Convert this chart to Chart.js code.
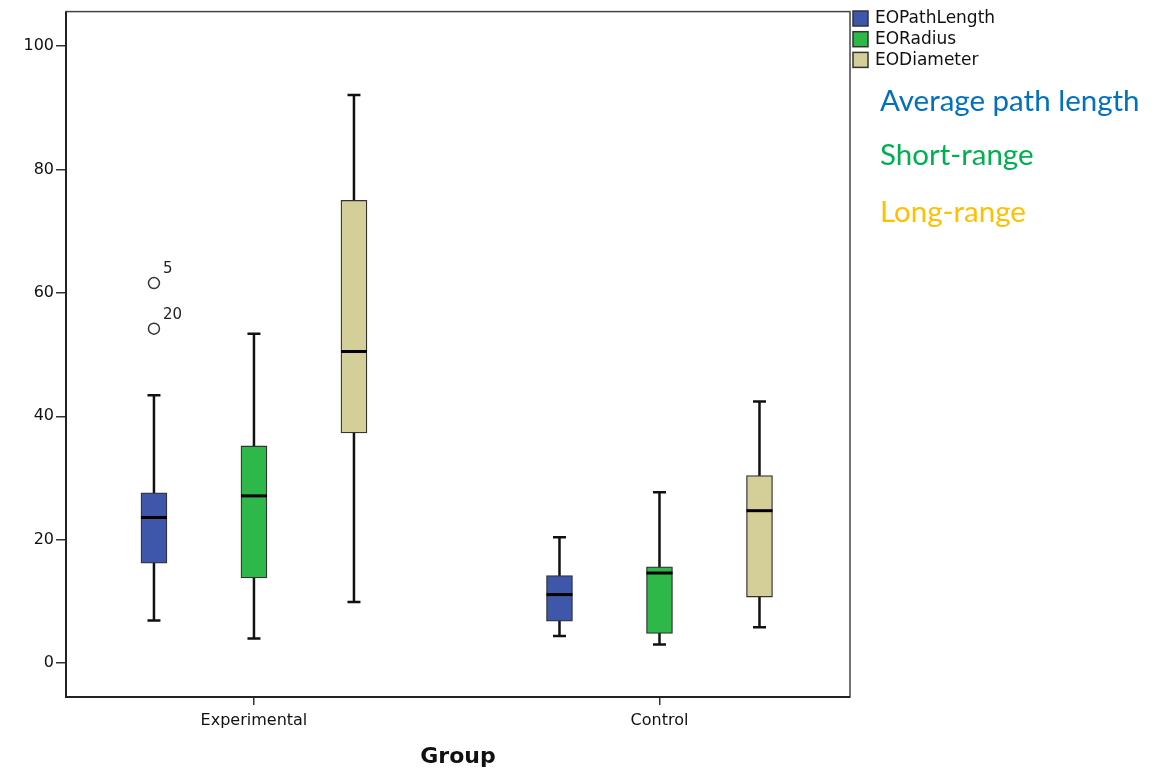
<!DOCTYPE html>
<html><head><meta charset="utf-8">
<script src="https://cdn.jsdelivr.net/npm/chart.js@4"></script>
<style>html,body{margin:0;padding:0;background:#fff}#wrap{width:1166px;height:776px;position:relative}</style>
</head><body><div id="wrap"><canvas id="c" width="1166" height="776"></canvas></div>
<script>
// ---- data ----
const groups = ['Experimental', 'Control'];
const seriesNames = ['EOPathLength', 'EORadius', 'EODiameter'];
// each row: [whiskerLow, Q1, median, Q3, whiskerHigh], one row per group
const pathLengthStats = [[6.9, 16.2, 23.6, 27.6, 43.4], [4.4, 6.8, 11.1, 14.2, 20.4]];
const radiusStats     = [[4.0, 13.8, 27.1, 35.2, 53.4], [3.0, 4.8, 14.6, 15.6, 27.7]];
const diameterStats   = [[9.9, 37.3, 50.5, 75.0, 92.1], [5.8, 10.7, 24.7, 30.4, 42.4]];
const outlierValues = [61.6, 54.2];
const outlierLabels = ['5', '20'];
const outlierGroup = 0;   // Experimental
const outlierSeries = 0;  // EOPathLength
const yTicks = [0, 20, 40, 60, 80, 100];
const annotationTexts = ['Average path length', 'Short-range', 'Long-range'];
const annotationColors = ['#0070C0', '#00B050', '#FFC000'];
const seriesColors = ['#3F57AA', '#2FB84A', '#D4CF98'];

// ---- layout helpers ----
const allStats = [pathLengthStats, radiusStats, diameterStats];
const seriesOffset = [-0.2466, 0, 0.2466];

const boxDatasets = allStats.map((stats, s) => ({
  type: 'bar',
  label: seriesNames[s],
  data: stats.map((r, g) => ({ x: g + seriesOffset[s], y: [r[1], r[3]] })),
  backgroundColor: seriesColors[s],
  borderColor: '#333',
  borderWidth: 1.3,
  borderSkipped: false,
  barThickness: 26,
  grouped: false,
  order: 2
}));

const outlierDataset = {
  type: 'scatter',
  label: 'outliers',
  data: outlierValues.map(v => ({ x: outlierGroup + seriesOffset[outlierSeries], y: v })),
  pointStyle: 'circle',
  pointRadius: 5.5,
  backgroundColor: 'rgba(255,255,255,0)',
  borderColor: '#333',
  borderWidth: 1.5,
  order: 1
};

const boxPlugin = {
  id: 'boxparts',
  beforeDatasetsDraw(chart) {
    const { ctx, scales: { x, y } } = chart;
    ctx.save();
    ctx.strokeStyle = '#111';
    ctx.lineWidth = 2.5;
    ctx.lineCap = 'butt';
    allStats.forEach((stats, s) => stats.forEach((r, g) => {
      const px = x.getPixelForValue(g + seriesOffset[s]);
      const lo = y.getPixelForValue(r[0]), hi = y.getPixelForValue(r[4]);
      ctx.beginPath();
      ctx.moveTo(px, lo); ctx.lineTo(px, hi);
      ctx.moveTo(px - 6.5, lo); ctx.lineTo(px + 6.5, lo);
      ctx.moveTo(px - 6.5, hi); ctx.lineTo(px + 6.5, hi);
      ctx.stroke();
    }));
    ctx.restore();
  },
  afterDatasetsDraw(chart) {
    const { ctx, scales: { x, y }, chartArea: ca } = chart;
    ctx.save();
    ctx.strokeStyle = '#000';
    ctx.lineWidth = 3;
    allStats.forEach((stats, s) => stats.forEach((r, g) => {
      const px = x.getPixelForValue(g + seriesOffset[s]);
      const py = y.getPixelForValue(r[2]);
      ctx.beginPath();
      ctx.moveTo(px - 13, py); ctx.lineTo(px + 13, py);
      ctx.stroke();
    }));
    // outlier labels
    ctx.fillStyle = '#222';
    ctx.font = '15px "DejaVu Sans"';
    ctx.textBaseline = 'middle';
    ctx.textAlign = 'left';
    outlierValues.forEach((v, i) => {
      const px = x.getPixelForValue(outlierGroup + seriesOffset[outlierSeries]);
      const py = y.getPixelForValue(v);
      ctx.fillText(outlierLabels[i], px + 9, py - 14);
    });
    // frame
    ctx.strokeStyle = '#444';
    ctx.lineWidth = 1.5;
    ctx.strokeRect(ca.left, ca.top, ca.right - ca.left, ca.bottom - ca.top);
    ctx.strokeStyle = '#222';
    ctx.lineWidth = 2;
    ctx.beginPath();
    ctx.moveTo(ca.left, ca.top); ctx.lineTo(ca.left, ca.bottom); ctx.lineTo(ca.right, ca.bottom);
    ctx.stroke();
    // legend
    ctx.font = '17px "DejaVu Sans"';
    ctx.textBaseline = 'middle';
    seriesNames.forEach((n, i) => {
      const top = 11 + i * 20.7;
      ctx.fillStyle = seriesColors[i];
      ctx.fillRect(853, top, 15, 15);
      ctx.strokeStyle = '#333';
      ctx.lineWidth = 1.5;
      ctx.strokeRect(853, top, 15, 15);
      ctx.fillStyle = '#111';
      ctx.fillText(n, 875, top + 8);
    });
    // annotations
    ctx.font = '29.5px Lato';
    const ay = [101, 155, 212];
    annotationTexts.forEach((t, i) => {
      ctx.fillStyle = annotationColors[i];
      ctx.fillText(t, 880, ay[i]);
    });
    ctx.restore();
  }
};

new Chart(document.getElementById('c'), {
  data: { datasets: [...boxDatasets, outlierDataset] },
  options: {
    responsive: false,
    animation: false,
    layout: { padding: { left: 0, top: 8, right: 316, bottom: 0 } },
    plugins: { legend: { display: false }, tooltip: { enabled: false } },
    scales: {
      x: {
        type: 'linear',
        offset: false,
        min: -0.4635,
        max: 1.4698,
        afterBuildTicks: sc => { sc.ticks = groups.map((g, i) => ({ value: i })); },
        afterFit: sc => { sc.height = 79; },
        ticks: {
          autoSkip: false, maxRotation: 0, padding: 6,
          color: '#111', font: { family: 'DejaVu Sans', size: 16 },
          callback: v => groups[v]
        },
        grid: { offset: false, drawOnChartArea: false, drawTicks: true, tickLength: 8, color: '#333', lineWidth: 1.5 },
        border: { display: false },
        title: { display: true, text: 'Group', color: '#111', font: { family: 'DejaVu Sans', size: 22, weight: 'bold' }, padding: { top: 4, bottom: 6 } }
      },
      y: {
        type: 'linear',
        min: -5.5,
        max: 105.6,
        afterBuildTicks: sc => { sc.ticks = yTicks.map(v => ({ value: v })); },
        afterFit: sc => { sc.width = 66; },
        ticks: { color: '#111', padding: 2, font: { family: 'DejaVu Sans', size: 16 } },
        grid: { drawOnChartArea: false, drawTicks: true, tickLength: 10, color: '#333', lineWidth: 1.5 },
        border: { display: false }
      }
    }
  },
  plugins: [boxPlugin]
});
</script>
</body></html>
